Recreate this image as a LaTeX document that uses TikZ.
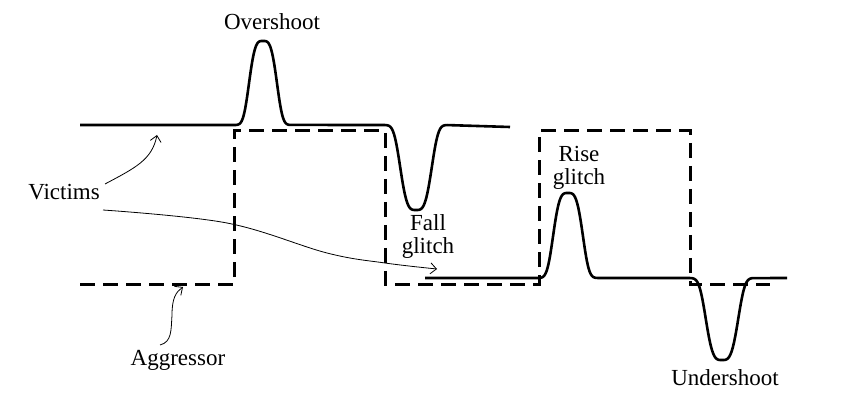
\documentclass[tikz,border=0pt]{standalone}
\usepackage{fontspec}
\setmainfont{Liberation Serif}
\usetikzlibrary{arrows.meta}
\begin{document}
\begin{tikzpicture}[x=1pt,y=-1pt,
  declare function={pk(\t,\c,\w)=exp(-pow(abs((\t-\c)/\w)+0.0001,3.5));},
  wave/.style={line width=2.6pt,line join=round},
  aggr/.style={line width=3pt,dash pattern=on 15pt off 8pt,line join=miter},
  thinarrow/.style={line width=0.8pt,-{Straight Barb[length=6pt,width=11pt]}},
  lbl/.style={inner sep=0pt,font=\fontsize{23}{23}\selectfont,align=center}]
\useasboundingbox (0,0) rectangle (842,411);
% aggressor (dashed)
\draw[aggr] (80,284) -- (234,284) -- (234,131) -- (385,131) -- (385,284) -- (539,284) -- (539,131) -- (690,131) -- (690,284) -- (770,284);
% victim 1
\draw[wave] (80,125) -- (236,125)
  -- plot[domain=236:290,samples=70] (\x,{125-84*pk(\x,263,15.5)})
  -- (385,125)
  -- plot[domain=385:447,samples=70] (\x,{125+85*pk(\x,416,17.5)})
  -- (510,127);
% victim 2
\draw[wave] (425,278) -- (539,278)
  -- plot[domain=539:598,samples=70] (\x,{278-85*pk(\x,568,16.5)})
  -- (690,278)
  -- plot[domain=690:753,samples=70] (\x,{278+82*pk(\x,722,18)})
  -- (787,278);
% labels
\node[lbl] (over) at (272,22) {Overshoot};
\node[lbl] (vic) at (64,192) {Victims};
\node[lbl] (fall) at (428,237) {Fall\\glitch};
\node[lbl] (rise) at (579,168) {Rise\\glitch};
\node[lbl] (agg) at (178,360) {Aggressor};
\node[lbl] (under) at (725,378) {Undershoot};
% arrows
\coordinate (v1s) at (105,184);
\coordinate (v1e) at (157,135);
\coordinate (v2s) at (103,210);
\coordinate (v2e) at (437,269);
\coordinate (as) at (160,345);
\coordinate (ae) at (183,287);
\draw[thinarrow] (v1s) .. controls (135,168) and (152,160) .. (v1e);
\draw[thinarrow] plot[smooth,tension=0.6] coordinates {(v2s) (227,223) (327,253) (385,263) (v2e)};
\draw[thinarrow] (as) .. controls (172,342) and (171,330) .. (172,315) .. controls (172,298) and (176,292) .. (ae);
\end{tikzpicture}
\end{document}
